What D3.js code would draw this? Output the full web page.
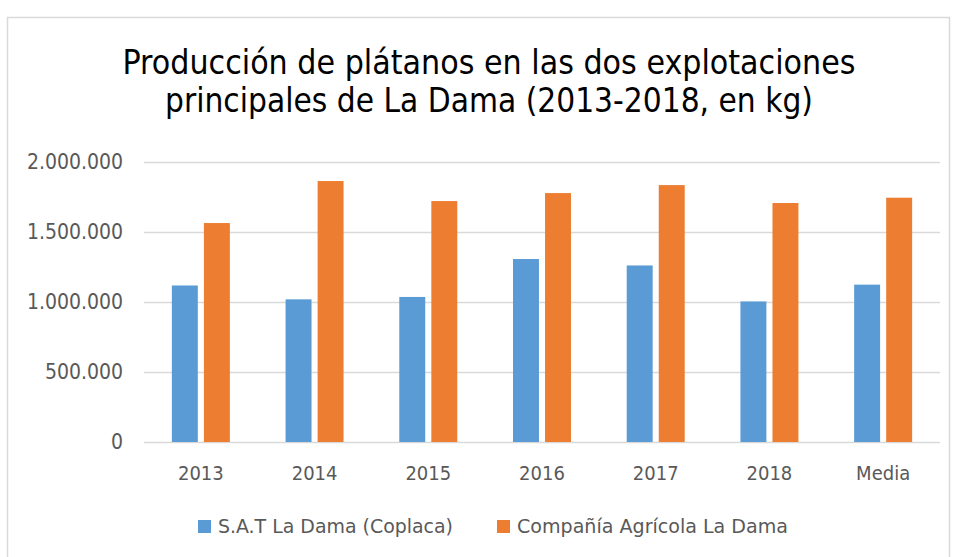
<!DOCTYPE html>
<html>
<head>
<meta charset="utf-8">
<script src="https://cdn.jsdelivr.net/npm/d3@7"></script>
<style>
  body { margin: 0; background: #fff; }
  svg text { font-family: "DejaVu Sans Condensed", "Liberation Sans", sans-serif; }
</style>
</head>
<body>
<div id="chart"></div>
<script>
const categories = ["2013", "2014", "2015", "2016", "2017", "2018", "Media"];
const seriesNames = ["S.A.T La Dama (Coplaca)", "Compañía Agrícola La Dama"];
const coplaca = [1118000, 1019000, 1036000, 1307000, 1261000, 1004000, 1124000];
const agricola = [1564000, 1864000, 1721000, 1778000, 1835000, 1707000, 1745000];
const yTicks = [0, 500000, 1000000, 1500000, 2000000];
const titleLines = ["Producción de plátanos en las dos explotaciones", "principales de La Dama (2013-2018, en kg)"];

const theme = {
    colors: ["#5b9bd5", "#ed7d31"],
    grid: "#d9d9d9",
    text: "#595959",
    title: "#000"
};

const W = 955, H = 557;
const margin = { top: 162, left: 144, right: 15, bottom: 115 };
const width = W - margin.left - margin.right;
const height = H - margin.top - margin.bottom;

const svg = d3.select("#chart").append("svg")
    .attr("width", W)
    .attr("height", H);

// chart frame
svg.append("rect")
    .attr("x", 7.5).attr("y", 17.5)
    .attr("width", 942).attr("height", 560)
    .attr("fill", "#fff")
    .attr("stroke", "#d9d9d9")
    .attr("stroke-width", 1.5);

const loc = d3.formatLocale({ decimal: ",", thousands: ".", grouping: [3], currency: ["", ""] });
const fmt = loc.format(",");

const x = d3.scaleBand().domain(categories).range([0, width]).padding(0);
const inner = d3.scaleBand().domain([0, 1]).range([0, 58]).paddingInner(0.19);
const y = d3.scaleLinear().domain([0, 2000000]).range([height, 0]);

const g = svg.append("g").attr("transform", `translate(${margin.left},${margin.top})`);

// Title
svg.append("g").selectAll("text")
    .data(titleLines)
    .join("text")
    .attr("x", 489)
    .attr("y", (d, i) => 74 + i * 38)
    .attr("text-anchor", "middle")
    .attr("font-size", 33)
    .attr("fill", theme.title)
    .attr("textLength", (d, i) => i === 0 ? 733 : 648)
    .attr("lengthAdjust", "spacingAndGlyphs")
    .text(d => d);

// Gridlines
g.append("g").selectAll("line")
    .data(yTicks)
    .join("line")
    .attr("x1", 0).attr("x2", width)
    .attr("y1", d => Math.round(y(d)) + 0.5)
    .attr("y2", d => Math.round(y(d)) + 0.5)
    .attr("stroke", theme.grid)
    .attr("stroke-width", 1.3);

// Y axis labels
const yAxis = g.append("g")
    .call(d3.axisLeft(y).tickValues(yTicks).tickFormat(fmt).tickSize(0).tickPadding(21));
yAxis.select(".domain").remove();
yAxis.selectAll("text")
    .attr("font-size", 21)
    .attr("fill", theme.text);

// X axis labels
const xAxis = g.append("g")
    .attr("transform", `translate(0,${height})`)
    .call(d3.axisBottom(x).tickSize(0).tickPadding(24));
xAxis.select(".domain").remove();
xAxis.selectAll("text")
    .attr("font-size", 20)
    .attr("fill", theme.text);

// Bars
const series = [coplaca, agricola];
const groups = g.append("g").selectAll("g")
    .data(categories)
    .join("g")
    .attr("transform", d => `translate(${x(d) + x.bandwidth() / 2 - 29},0)`);

groups.selectAll("rect")
    .data((d, i) => series.map((s, k) => ({ k, v: s[i] })))
    .join("rect")
    .attr("x", d => inner(d.k))
    .attr("width", inner.bandwidth())
    .attr("y", d => y(d.v))
    .attr("height", d => y(0) - y(d.v))
    .attr("fill", d => theme.colors[d.k]);

// Legend
const legendX = [198, 497];
const legendW = [235, 271];
const legend = svg.append("g").selectAll("g")
    .data(seriesNames)
    .join("g")
    .attr("transform", (d, i) => `translate(${legendX[i]},520)`);

legend.append("rect")
    .attr("width", 13).attr("height", 13)
    .attr("fill", (d, i) => theme.colors[i]);

legend.append("text")
    .attr("x", 20)
    .attr("y", 13)
    .attr("font-size", 20)
    .attr("fill", theme.text)
    .attr("textLength", (d, i) => legendW[i])
    .attr("lengthAdjust", "spacingAndGlyphs")
    .text(d => d);
</script>
</body>
</html>
